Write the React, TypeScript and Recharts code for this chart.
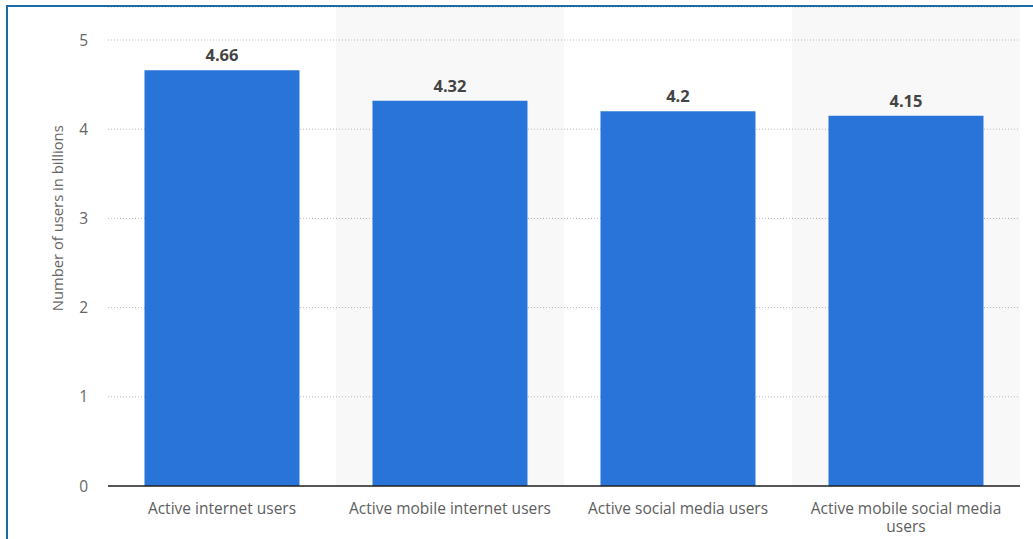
import React from "react";
import { BarChart, Bar, XAxis, YAxis, CartesianGrid, ReferenceArea, LabelList } from "recharts";

const categories = [
  "Active internet users",
  "Active mobile internet users",
  "Active social media users",
  "Active mobile social media users",
];
const users = [4.66, 4.32, 4.2, 4.15];
const yTicks = [0, 1, 2, 3, 4, 5];
const shadedCategories = [categories[1], categories[3]];

const data = categories.map((c, i) => ({ name: c, value: users[i] }));

const FONT = "'Open Sans', 'Noto Sans', sans-serif";

function wrap(label: string, max: number): string[] {
  const words = label.split(" ");
  const lines: string[] = [];
  let cur = "";
  for (const w of words) {
    const next = cur ? cur + " " + w : w;
    if (next.length > max && cur) {
      lines.push(cur);
      cur = w;
    } else cur = next;
  }
  if (cur) lines.push(cur);
  return lines;
}

const XTick = (props: any) => {
  const { x, y, payload } = props;
  const lines = wrap(String(payload.value), 28);
  return (
    <text x={x} y={y} textAnchor="middle" fill="#5e5e5e" fontSize={15.5} fontFamily={FONT}>
      {lines.map((l, i) => (
        <tspan key={i} x={x} dy={i === 0 ? 27.5 : 18}>
          {l}
        </tspan>
      ))}
    </text>
  );
};

const YLabel = (props: any) => {
  const vb = props.viewBox || { x: 0, y: 0, width: 100, height: 479 };
  const cx = vb.x + 49;
  const cy = vb.y + vb.height * 0.441;
  return (
    <text
      x={cx}
      y={cy}
      transform={`rotate(-90, ${cx}, ${cy})`}
      textAnchor="middle"
      dominantBaseline="central"
      fill="#666"
      fontSize={14.8}
      fontFamily={FONT}
    >
      Number of users in billions
    </text>
  );
};

export default function App() {
  return (
    <div
      style={{
        position: "absolute",
        left: 6,
        top: 5,
        width: 1100,
        height: 600,
        border: "2px solid #1c6aa6",
        background: "#fff",
      }}
    >
      <BarChart
        width={1025}
        height={529}
        data={data}
        margin={{ top: 0, right: 13, left: 0, bottom: 0 }}
        barCategoryGap="16%"
      >
        {shadedCategories.map((c) => (
          <ReferenceArea key={c} x1={c} x2={c} fill="#000" fillOpacity={0.028} stroke="none" ifOverflow="visible" />
        ))}
        <CartesianGrid vertical={false} stroke="#bbb" strokeDasharray="1 2" />
        <XAxis
          dataKey="name"
          height={50}
          tickLine={false}
          tickSize={0}
          tickMargin={0}
          axisLine={{ stroke: "#222", strokeWidth: 1.6 }}
          tick={<XTick />}
          interval={0}
        />
        <YAxis
          width={100}
          domain={[0, 5.37]}
          ticks={yTicks}
          tickLine={false}
          axisLine={false}
          tickSize={0}
          tickMargin={20}
          tick={{ fill: "#666", fontSize: 15.5, fontFamily: FONT }}
          label={<YLabel />}
        />
        <Bar dataKey="value" fill="#2874d9" isAnimationActive={false}>
          <LabelList
            dataKey="value"
            position="top"
            offset={9}
            fill="#444"
            fontSize={16.5}
            fontWeight="bold"
            fontFamily={FONT}
          />
        </Bar>
      </BarChart>
    </div>
  );
}
